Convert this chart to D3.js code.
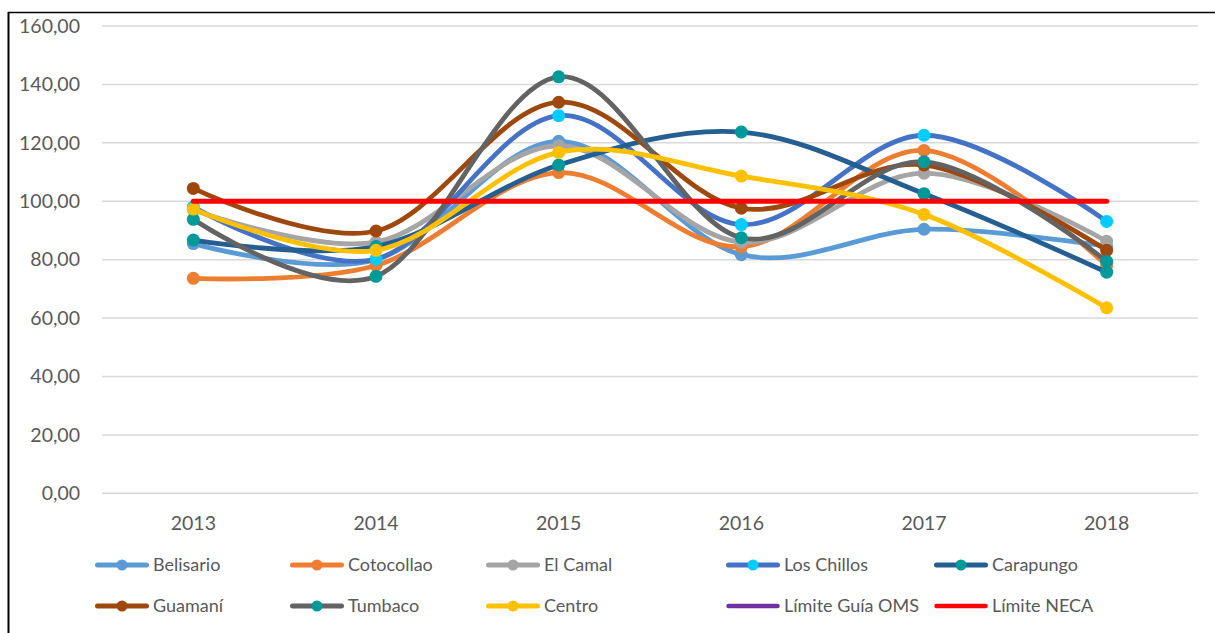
<!DOCTYPE html>
<html><head><meta charset="utf-8">
<script src="https://cdn.jsdelivr.net/npm/d3@7/dist/d3.min.js"></script>
<style>
body{margin:0;background:#fff;}
svg{display:block;font-family:Lato,"Open Sans",sans-serif;}
</style></head>
<body><svg id="c" width="1215" height="633"></svg>
<script>
const years = ["2013","2014","2015","2016","2017","2018"];
const yTicks = [0,20,40,60,80,100,120,140,160];
const belisario  = [85.5, 80.0, 120.5, 81.7, 90.4, 84.5];
const cotocollao = [73.6, 78.0, 109.8, 84.4, 117.4, 78.0];
const elCamal    = [97.0, 86.0, 119.0, 86.0, 109.6, 86.3];
const losChillos = [98.0, 80.2, 129.3, 92.0, 122.6, 93.1];
const carapungo  = [86.7, 84.5, 112.4, 123.7, 102.6, 75.7];
const guamani    = [104.4, 89.8, 133.9, 97.6, 112.4, 83.2];
const tumbaco    = [93.8, 74.3, 142.6, 87.5, 113.5, 79.4];
const centro     = [97.3, 83.2, 116.7, 108.6, 95.5, 63.5];
const limiteOMS  = [null, null, null, null, null, null];
const limiteNECA = [100, 100, 100, 100, 100, 100];

const series = [
  {name:"Belisario", values:belisario, line:"#5B9BD5", marker:"#5B9BD5"},
  {name:"Cotocollao", values:cotocollao, line:"#ED7D31", marker:"#ED7D31"},
  {name:"El Camal", values:elCamal, line:"#A5A5A5", marker:"#A5A5A5"},
  {name:"Los Chillos", values:losChillos, line:"#4472C4", marker:"#00CCFF"},
  {name:"Carapungo", values:carapungo, line:"#255E91", marker:"#009999"},
  {name:"Guamaní", values:guamani, line:"#9E480E", marker:"#9E480E"},
  {name:"Tumbaco", values:tumbaco, line:"#636363", marker:"#009999"},
  {name:"Centro", values:centro, line:"#FFC000", marker:"#FFC000"},
  {name:"Límite Guía OMS", values:limiteOMS, line:"#7030A0", marker:null},
  {name:"Límite NECA", values:limiteNECA, line:"#FF0000", marker:null}
];

const svg = d3.select("#c");
const pL = 102, pR = 1198, pT = 26, pB = 493.3;
const x = d3.scaleBand().domain(years).range([pL, pR]);
const y = d3.scaleLinear().domain([0,160]).range([pB, pT]);
const cx = d => x(d) + x.bandwidth()/2;

// border
svg.append("line").attr("x1",8.5).attr("x2",8.5).attr("y1",12).attr("y2",633).attr("stroke","#000").attr("stroke-width",2);
svg.append("line").attr("x1",8).attr("x2",1215).attr("y1",12.5).attr("y2",12.5).attr("stroke","#000").attr("stroke-width",1.5);

// grid
svg.append("g").selectAll("line").data(yTicks).join("line")
  .attr("x1",pL).attr("x2",pR).attr("y1",d=>y(d)).attr("y2",d=>y(d))
  .attr("stroke","#D9D9D9").attr("stroke-width",1.5);

// y axis
const yAxis = d3.axisLeft(y).tickValues(yTicks).tickSize(0).tickPadding(0)
  .tickFormat(d => d3.format(".2f")(d).replace(".", ","));
const gy = svg.append("g").attr("transform","translate(80,0)").call(yAxis);
gy.select(".domain").remove();
gy.selectAll("text").attr("fill","#595959").style("font-size","19.5px").style("font-family","Lato,'Open Sans',sans-serif");

// x axis
const xAxis = d3.axisBottom(x).tickSize(0).tickPadding(0);
const gx = svg.append("g").attr("transform","translate(0,516)").call(xAxis);
gx.select(".domain").remove();
gx.selectAll("text").attr("fill","#595959").style("font-size","19.5px").style("font-family","Lato,'Open Sans',sans-serif");

const lineGen = d3.line()
  .defined(d => d.v != null)
  .x(d => cx(d.year)).y(d => y(d.v))
  .curve(d3.curveCatmullRom.alpha(0));
const straight = d3.line().defined(d=>d.v!=null).x(d=>cx(d.year)).y(d=>y(d.v));

const plot = svg.append("g");
series.forEach(s => {
  const pts = years.map((yr,i)=>({year:yr, v:s.values[i]}));
  const isLimit = s.marker === null;
  plot.append("path").datum(pts)
    .attr("d", isLimit ? straight(pts) : lineGen(pts))
    .attr("fill","none").attr("stroke",s.line).attr("stroke-width",isLimit?5:4.8)
    .attr("stroke-linecap","round").attr("stroke-linejoin","round");
  if (!isLimit) {
    plot.append("g").selectAll("circle").data(pts.filter(d=>d.v!=null)).join("circle")
      .attr("cx",d=>cx(d.year)).attr("cy",d=>y(d.v)).attr("r",6.5)
      .attr("fill",s.marker);
  }
});

// legend
const legX = [95, 290, 486, 726, 934];
const legY = [565, 606];
const lg = svg.append("g");
series.forEach((s,i) => {
  const row = i < 5 ? 0 : 1;
  const col = i % 5;
  const x0 = legX[col], yy = legY[row];
  const g = lg.append("g");
  g.append("line").attr("x1",x0+2.5).attr("x2",x0+51.5).attr("y1",yy).attr("y2",yy)
    .attr("stroke",s.line).attr("stroke-width",s.marker? 5 : 4.5).attr("stroke-linecap","round");
  if (s.marker) g.append("circle").attr("cx",x0+27).attr("cy",yy).attr("r",5.5).attr("fill",s.marker);
  g.append("text").attr("x",x0+58).attr("y",yy).attr("dy","0.35em")
    .attr("fill","#595959").style("font-size","18px").text(s.name);
});
</script></body></html>
